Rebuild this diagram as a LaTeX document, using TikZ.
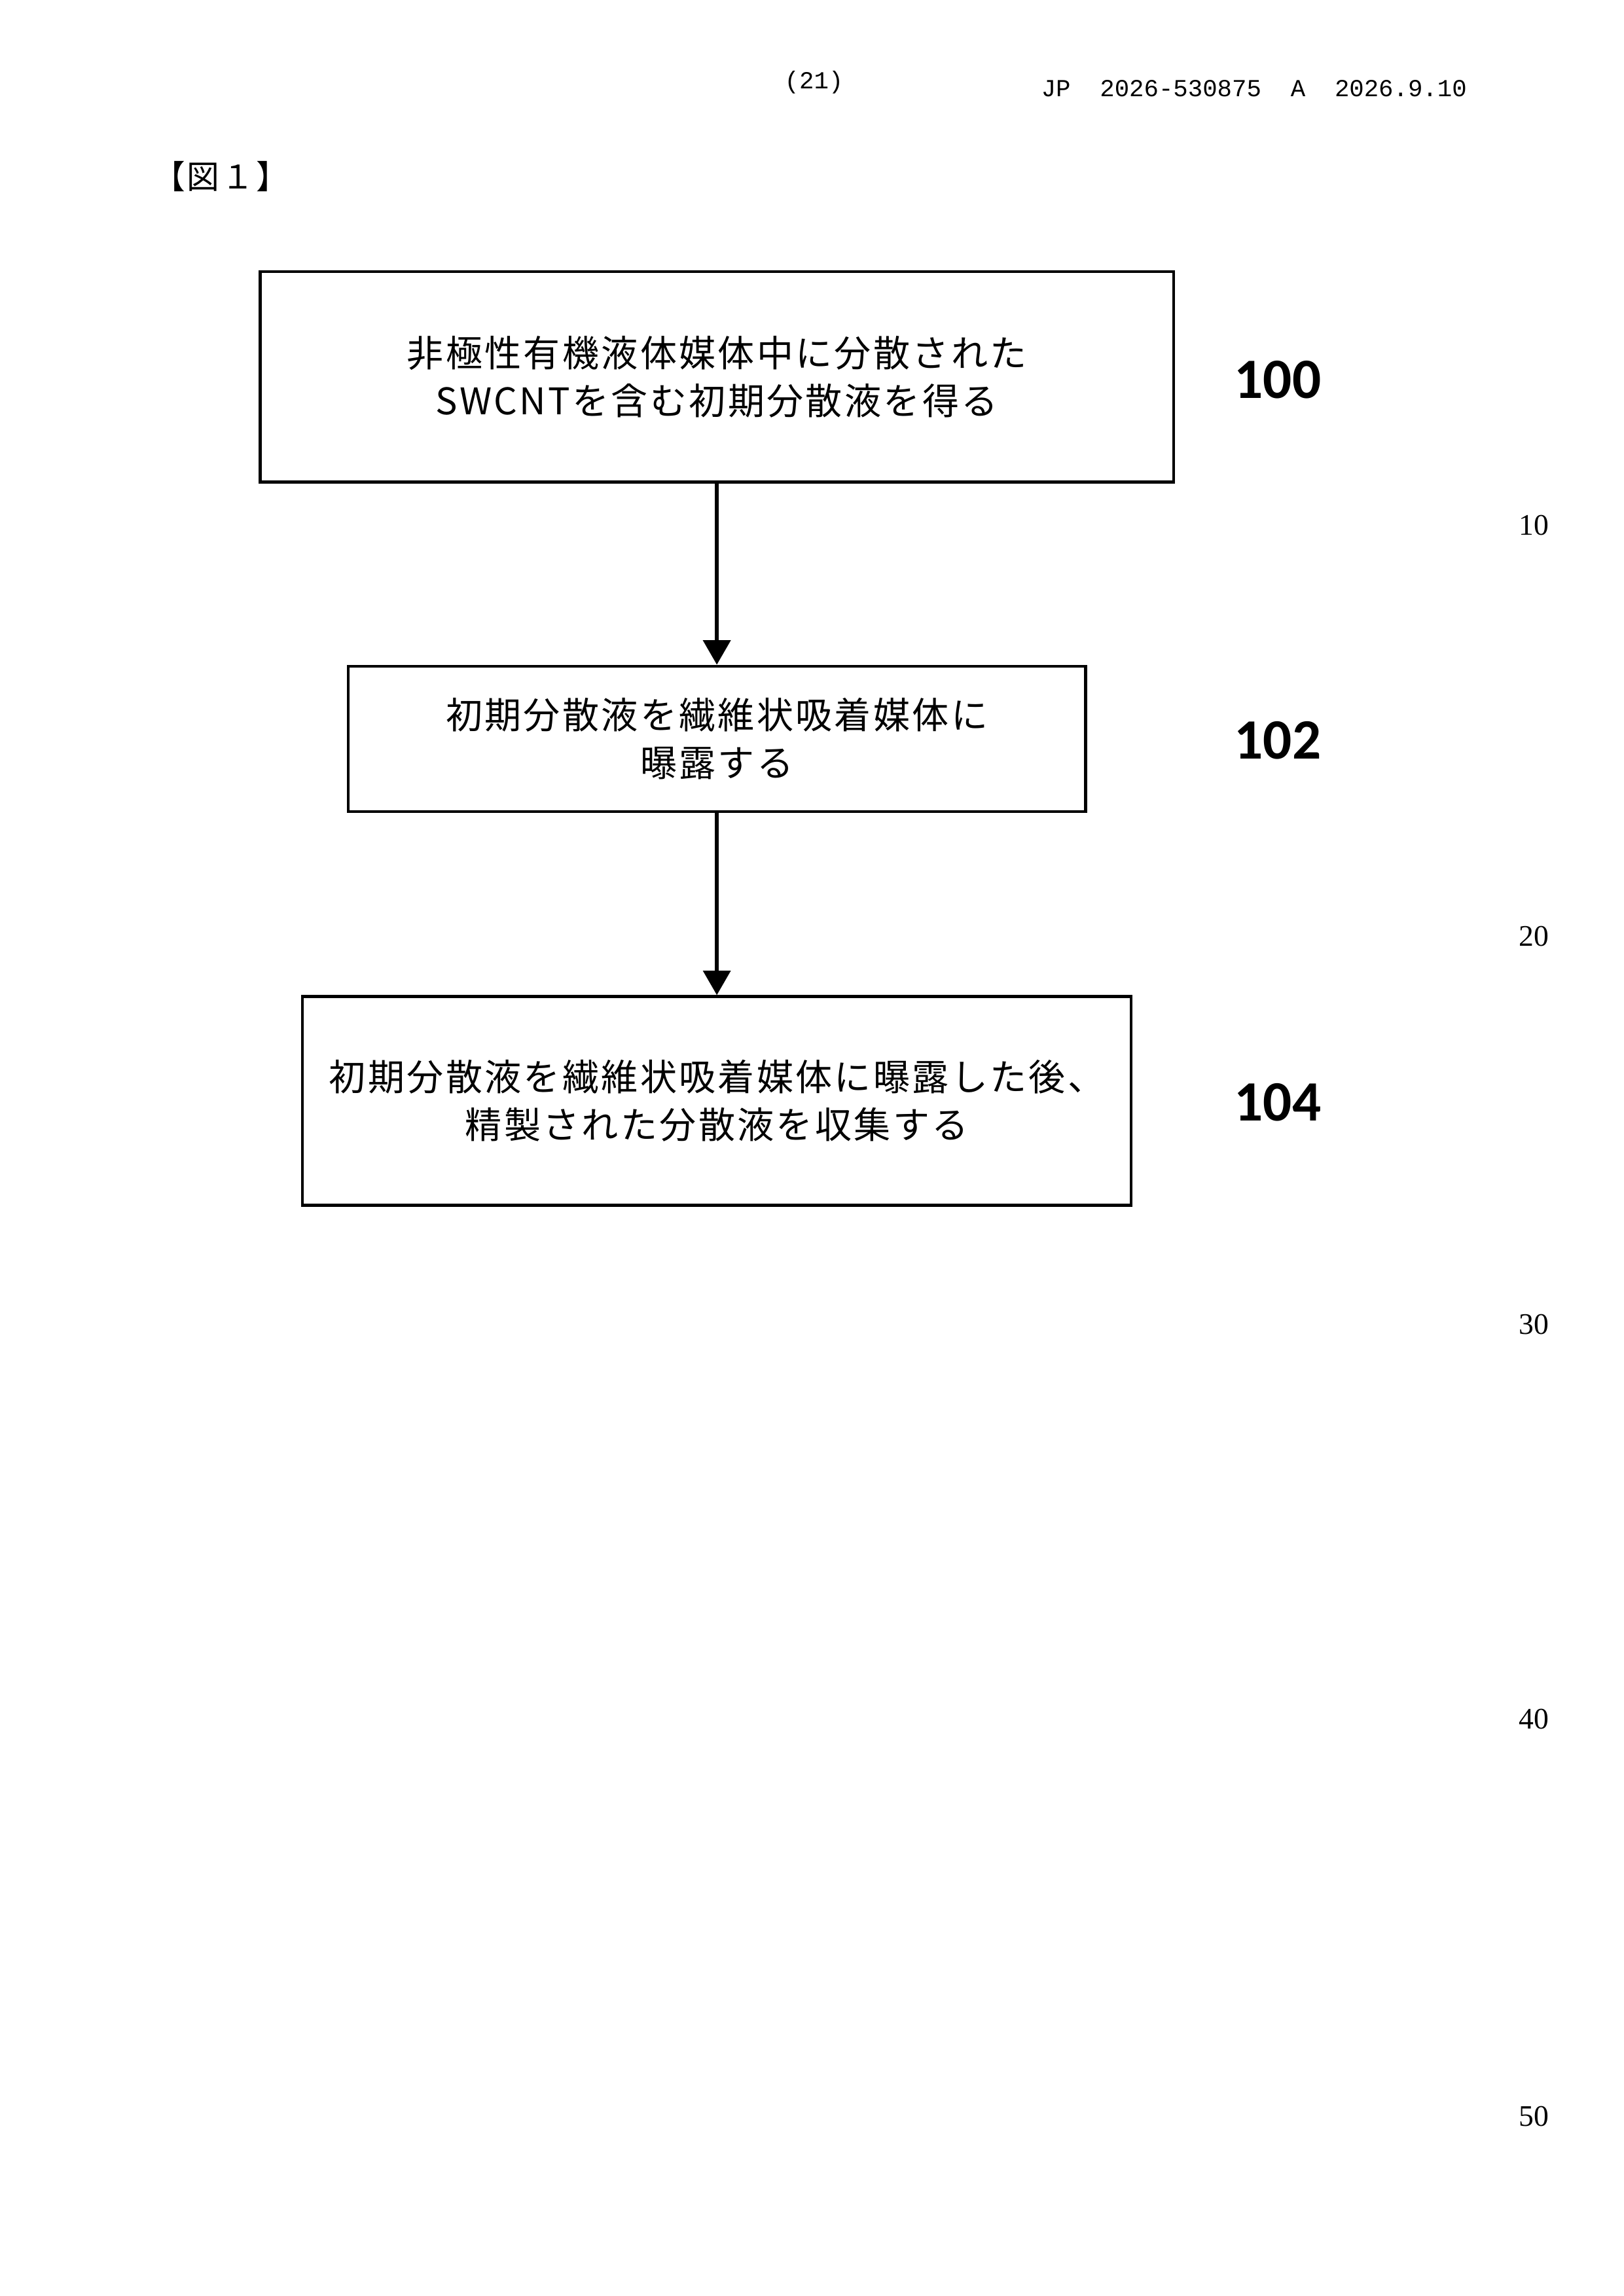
\documentclass[tikz,border=0pt]{standalone}
\usepackage{fontspec}
\setmainfont{Liberation Serif}
\newfontfamily\jpfont[LetterSpace=6]{Noto Sans CJK JP}
\newfontfamily\numfont{Carlito}
\newfontfamily\hdfont{Liberation Mono}
\usetikzlibrary{positioning,arrows.meta}

\begin{document}
\begin{tikzpicture}[x=0.019039cm, y=-0.019039cm,
stepnode/.style={rectangle, draw=black, line width=1.1pt, align=center, inner sep=0pt, font=\jpfont\fontsize{13.5}{17.5}\selectfont},
refnode/.style={font=\numfont\bfseries\fontsize{21}{24}\selectfont},
linenum/.style={font=\fontsize{11}{12}\selectfont},
]
\useasboundingbox (0,0) rectangle (1103,1560);
%Header
\node[font=\hdfont\fontsize{9}{10}\selectfont] (page) at (553,56) {(21)};
\node[font=\hdfont\fontsize{9}{10}\selectfont, anchor=east] (pub) at (1003,60) {JP\ \ 2026-530875\ \ A\ \ 2026.9.10};
\node[font=\jpfont\fontsize{12}{14}\selectfont] (fig) at (150,120) {【図１】};

%Nodes
\node[stepnode, minimum width=11.82cm, minimum height=2.72cm] (s100) at (487,256)
  {非極性有機液体媒体中に分散された\\SWCNTを含む初期分散液を得る};
\node[stepnode, minimum width=9.54cm, minimum height=1.88cm] (s102) at (487,502)
  {初期分散液を繊維状吸着媒体に\\曝露する};
\node[stepnode, minimum width=10.72cm, minimum height=2.70cm] (s104) at (487,748)
  {初期分散液を繊維状吸着媒体に曝露した後、\\精製された分散液を収集する};
\node[refnode] (r100) at (868,258) {100};
\node[refnode] (r102) at (868,503) {102};
\node[refnode] (r104) at (868,749) {104};

%Line numbers
\foreach \n/\y in {10/357, 20/636, 30/900, 40/1168, 50/1438}
  \node[linenum] (ln\n) at (1042,\y) {\n};

%Lines
\draw[-{Triangle[length=9pt,width=10pt]}, line width=1.3pt] (s100.south) -- (s102.north);
\draw[-{Triangle[length=9pt,width=10pt]}, line width=1.3pt] (s102.south) -- (s104.north);
\end{tikzpicture}
\end{document}
